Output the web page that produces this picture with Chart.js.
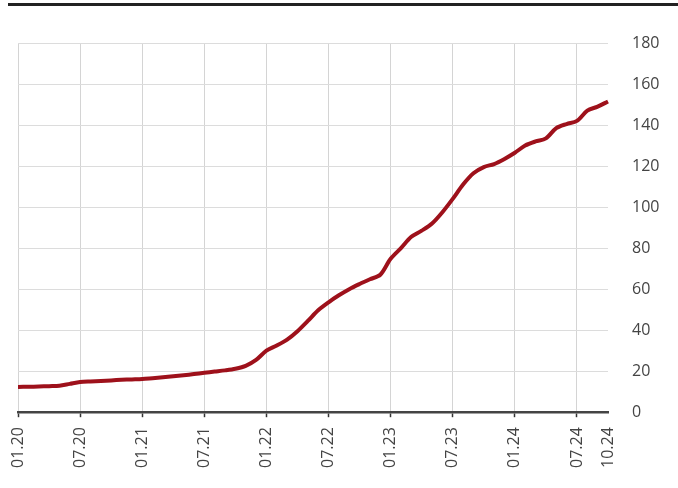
<!DOCTYPE html>
<html>
<head>
<meta charset="utf-8">
<script src="https://cdn.jsdelivr.net/npm/chart.js@4"></script>
<style>
  html, body { margin: 0; padding: 0; background: #fff; }
  #wrap { position: relative; width: 678px; height: 488px; }
  #topline { position: absolute; left: 8px; right: 0; top: 3px; height: 3px; background: #222; }
</style>
</head>
<body>
<div id="wrap">
  <div id="topline"></div>
  <canvas id="lineChart" width="678" height="488"></canvas>
</div>
<script>
// mjeseci 01.20 - 10.24
const months = [];
for (let y = 20; y <= 24; y++) {
    for (let m = 1; m <= 12; m++) {
        if (y === 24 && m > 10) break;
        months.push(String(m).padStart(2, '0') + '.' + y);
    }
}

// oznake koje se prikazuju na x osi
const shownTicks = ['01.20', '07.20', '01.21', '07.21', '01.22', '07.22', '01.23', '07.23', '01.24', '07.24', '10.24'];

// vrijednosti po mjesecima (ocitano sa slike)
const values = [
    12.3, 12.4, 12.5, 12.7, 12.9, 13.8, 14.7, 15.0, 15.2, 15.5, 15.8, 16.0,
    16.2, 16.6, 17.0, 17.5, 18.0, 18.6, 19.2, 19.8, 20.4, 21.2, 22.6, 25.5,
    30.0, 32.5, 35.4, 39.5, 44.5, 49.7, 53.6, 57.0, 60.0, 62.5, 64.8, 67.0,
    74.8, 80.0, 85.5, 88.5, 92.0, 97.5, 104.0, 111.0, 116.5, 119.5, 121.0, 123.5,
    126.5, 130.0, 132.0, 133.5, 138.5, 140.5, 142.0, 147.0, 149.0, 151.5
];

const yTicks = [0, 20, 40, 60, 80, 100, 120, 140, 160, 180];

const lineChart = document.getElementById('lineChart');

new Chart(lineChart, {
    type: 'line',
    data: {
        labels: months,
        datasets: [
            {
                data: values,
                borderColor: '#9e111b',
                borderWidth: 4,
                pointRadius: 0,
                tension: 0.3,
                fill: false
            }
        ]
    },
    options: {
        responsive: false,
        animation: false,
        layout: { padding: { left: 18, right: 0, top: 43, bottom: 10 } },
        plugins: { legend: { display: false }, tooltip: { enabled: false } },
        scales: {
            x: {
                offset: false,
                grid: {
                    color: (ctx) => {
                        const lab = months[ctx.index];
                        return (shownTicks.includes(lab) && lab !== '10.24') ? '#d4d4d4' : 'rgba(0,0,0,0)';
                    },
                    tickColor: (ctx) => {
                        const lab = months[ctx.index];
                        return (shownTicks.includes(lab) && lab !== '10.24') ? '#333' : 'rgba(0,0,0,0)';
                    },
                    tickLength: 5,
                    tickWidth: 1.5
                },
                border: { color: '#444', width: 2.5 },
                ticks: {
                    autoSkip: false,
                    minRotation: 90,
                    maxRotation: 90,
                    padding: 10,
                    color: '#444',
                    font: { family: 'Open Sans', size: 16 },
                    callback: function (value) {
                        const lab = this.getLabelForValue(value);
                        return shownTicks.includes(lab) ? lab : '';
                    }
                }
            },
            y: {
                position: 'right',
                min: 0,
                max: 180,
                afterBuildTicks: (axis) => { axis.ticks = yTicks.map(v => ({ value: v })); },
                afterFit: (axis) => { axis.width = 70; },
                grid: { color: '#dcdcdc', drawTicks: false },
                border: { display: false },
                ticks: {
                    padding: 24,
                    color: '#444',
                    font: { family: 'Open Sans', size: 16 }
                }
            }
        }
    }
});
</script>
</body>
</html>
